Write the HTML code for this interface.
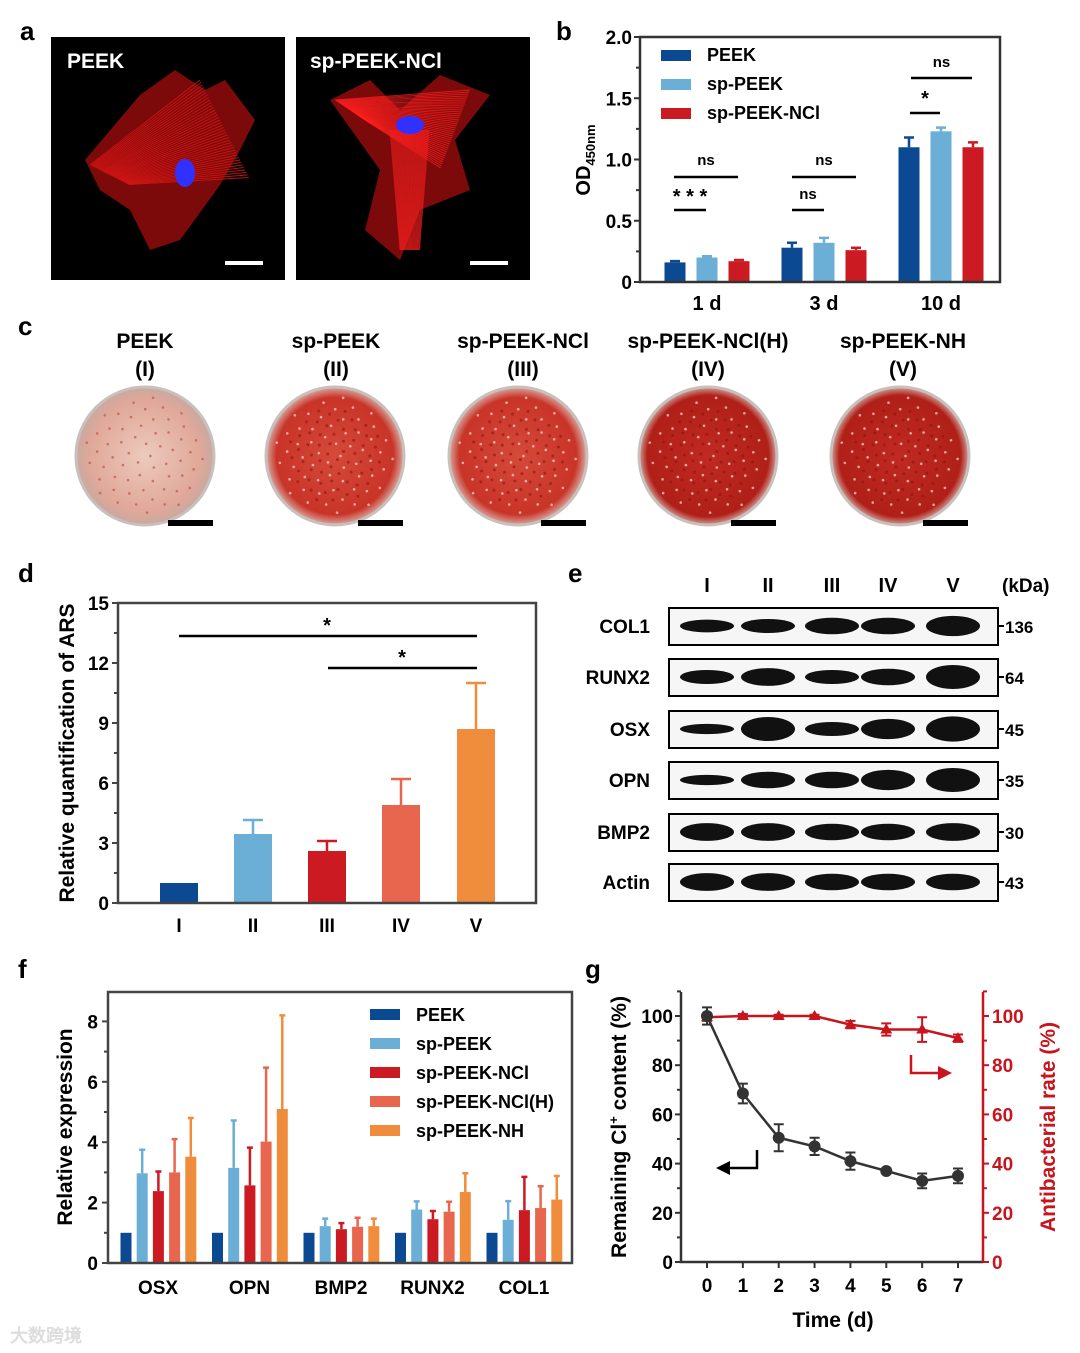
<!DOCTYPE html>
<html><head><meta charset="utf-8"><style>
body{margin:0;background:#fff}
svg{display:block;font-family:"Liberation Sans",Arial,sans-serif;font-weight:bold}
</style></head><body>
<svg id="fig" width="1080" height="1353" viewBox="0 0 1080 1353" xmlns="http://www.w3.org/2000/svg">
<defs>
<radialGradient id="dish1" cx="50%" cy="50%" r="50%"><stop offset="0%" stop-color="#eccabd"/><stop offset="80%" stop-color="#e0a898"/><stop offset="100%" stop-color="#c9a8a0"/></radialGradient>
<radialGradient id="dish2" cx="50%" cy="50%" r="50%"><stop offset="0%" stop-color="#d54a3a"/><stop offset="85%" stop-color="#c93428"/><stop offset="100%" stop-color="#d8a8a0"/></radialGradient>
<radialGradient id="dish3" cx="50%" cy="50%" r="50%"><stop offset="0%" stop-color="#c02a22"/><stop offset="88%" stop-color="#b02018"/><stop offset="100%" stop-color="#d0a098"/></radialGradient>
</defs>

<g>
<text x="20" y="40" font-size="26">a</text>
<rect x="51" y="37" width="234" height="243" fill="#000"/>
<g id="cellA"></g>
<polygon points="85,160 140,95 175,70 205,90 225,80 255,120 240,150 220,185 180,240 150,250 130,210 100,190" fill="#d01010" opacity="0.6"/>
<ellipse cx="185" cy="173" rx="10" ry="14" fill="#3030ff"/>
<text x="67" y="68" font-size="21" fill="#fff">PEEK</text>
<rect x="225" y="261" width="38" height="4" fill="#fff"/>
<rect x="296" y="37" width="234" height="243" fill="#000"/>
<polygon points="330,100 370,80 400,110 440,75 490,95 455,140 470,190 420,210 400,260 365,230 380,170" fill="#d01010" opacity="0.6"/>
<g id="cellB"></g>
<ellipse cx="410" cy="125" rx="14" ry="9" fill="#3030ff"/>
<text x="310" y="68" font-size="21" fill="#fff">sp-PEEK-NCl</text>
<rect x="470" y="261" width="38" height="4" fill="#fff"/>
</g>

<g id="pb">
<text x="556" y="40" font-size="26">b</text>
<text transform="translate(590,160) rotate(-90)" text-anchor="middle" font-size="20">OD<tspan font-size="13" dy="5">450nm</tspan></text>
</g>

<g id="pc">
<text x="18" y="335" font-size="26">c</text>
</g>

<g id="pd">
<text x="18" y="582" font-size="26">d</text>
<text transform="translate(74,753) rotate(-90)" text-anchor="middle" font-size="21">Relative quantification of ARS</text>
</g>

<g id="pe">
<text x="568" y="582" font-size="26">e</text>
<text x="1002" y="592" font-size="19">(kDa)</text>
</g>

<g id="pf">
<text x="18" y="978" font-size="26">f</text>
<text transform="translate(72,1127) rotate(-90)" text-anchor="middle" font-size="21">Relative expression</text>
</g>

<g id="pg">
<text x="585" y="978" font-size="26">g</text>
<text transform="translate(626,1127) rotate(-90)" text-anchor="middle" font-size="21">Remaining Cl<tspan font-size="13" dy="-8">+</tspan><tspan dy="8"> content (%)</tspan></text>
<text transform="translate(1055,1127) rotate(-90)" text-anchor="middle" font-size="21" fill="#c8141c">Antibacterial rate (%)</text>
<text x="833" y="1327" text-anchor="middle" font-size="21">Time (d)</text>
<path d="M757,1150 V1168 H722" fill="none" stroke="#000" stroke-width="2.5"/>
<polygon points="716,1168 730,1161 730,1175" fill="#000"/>
<path d="M911,1055 V1073 H945" fill="none" stroke="#c8141c" stroke-width="2.5"/>
<polygon points="952,1073 938,1066 938,1080" fill="#c8141c"/>
</g>
<text x="10" y="1342" font-size="18" fill="#ddd">大数跨境</text>
</svg>
<script>
const NS="http://www.w3.org/2000/svg";
function mk(parent,tag,attrs,txt){const e=document.createElementNS(NS,tag);for(const k in attrs)e.setAttribute(k,attrs[k]);if(txt!==undefined)e.textContent=txt;parent.appendChild(e);return e;}

// ---------- Panel b data ----------
const bDays=["1 d","3 d","10 d"];
const bSeries=["PEEK","sp-PEEK","sp-PEEK-NCl"];
const bPeek=[0.16,0.28,1.10];
const bSpPeek=[0.20,0.32,1.23];
const bNcl=[0.17,0.26,1.10];
const bPeekErr=[0.01,0.04,0.08];
const bSpPeekErr=[0.01,0.04,0.03];
const bNclErr=[0.01,0.02,0.04];
const bTicks=[0,0.5,1.0,1.5,2.0];
const bTickLabels=["0","0.5","1.0","1.5","2.0"];

// ---------- Panel d data ----------
const dCats=["I","II","III","IV","V"];
const dVals=[1.0,3.45,2.6,4.9,8.7];
const dErr=[0,0.7,0.5,1.3,2.3];
const dTicks=[0,3,6,9,12,15];

// ---------- Panel f data ----------
const fGenes=["OSX","OPN","BMP2","RUNX2","COL1"];
const fSeries=["PEEK","sp-PEEK","sp-PEEK-NCl","sp-PEEK-NCl(H)","sp-PEEK-NH"];
const fPeek=[1,1,1,1,1];
const fSpPeek=[2.97,3.15,1.22,1.77,1.43];
const fNcl=[2.38,2.57,1.12,1.45,1.75];
const fNclH=[3.0,4.02,1.2,1.70,1.82];
const fNH=[3.52,5.1,1.22,2.35,2.1];
const fSpPeekErr=[0.78,1.57,0.25,0.27,0.62];
const fNclErr=[0.65,1.25,0.2,0.27,1.1];
const fNclHErr=[1.1,2.45,0.3,0.33,0.72];
const fNHErr=[1.28,3.1,0.25,0.62,0.78];
const fTicks=[0,2,4,6,8];

// ---------- Panel g data ----------
const gDays=[0,1,2,3,4,5,6,7];
const gCl=[100,68.5,50.5,47,41,37,33,35];
const gClErr=[3.5,4,5.5,3.5,3.5,1,3,3];
const gAnti=[99.5,100,100,100,96.5,94.5,94.5,91];
const gAntiErr=[1.5,0.8,0.5,0.5,1.5,2.5,5,1.5];
const gTicks=[0,20,40,60,80,100];

const colors5=["#0b4a92","#6baed6","#cc1a22","#e8664d","#f08d3c"];

// fibres for panel a (decorative)
(function(){
 const a=document.getElementById('cellA'),b=document.getElementById('cellB');
 for(let i=0;i<40;i++){const t=i/40;
  mk(a,'line',{x1:90+t*40,y1:165+t*20,x2:200+t*50,y2:80+t*100,stroke:'#ff2020','stroke-width':1,opacity:0.7});
  mk(b,'line',{x1:335+t*30,y1:100+t*20,x2:470-t*30,y2:90+t*80,stroke:'#ff2020','stroke-width':1,opacity:0.7});
  mk(b,'line',{x1:390+t*40,y1:130,x2:400+t*20,y2:250,stroke:'#ff2020','stroke-width':1,opacity:0.5});
 }
})();

// ===== Panel b =====
(function(){
 const g=document.getElementById('pb');
 const x0=640,x1=1000,yb=282,yt=37;
 const y=v=>yb-(v/2.0)*(yb-yt);
 const groupC=[707,824,941],off=[-32,0,32],bw=21;
 const vals=[bPeek,bSpPeek,bNcl],errs=[bPeekErr,bSpPeekErr,bNclErr];
 for(let s=0;s<3;s++)for(let i=0;i<3;i++){
  const cx=groupC[i]+off[s];
  const r=mk(g,'rect',{x:cx-bw/2,y:y(vals[s][i]),width:bw,height:yb-y(vals[s][i]),fill:colors5[s]});
  
  
  const ye=y(vals[s][i]+errs[s][i]);
  mk(g,'path',{d:`M${cx} ${y(vals[s][i])}V${ye}M${cx-5} ${ye}H${cx+5}`,stroke:colors5[s],'stroke-width':2.5,fill:'none'});
 }
 mk(g,'rect',{x:x0,y:yt,width:x1-x0,height:yb-yt,fill:'none',stroke:'#333','stroke-width':2.5});
 bTicks.forEach((t,i)=>{mk(g,'line',{x1:x0-6,x2:x0,y1:y(t),y2:y(t),stroke:'#333','stroke-width':2});
  const tl=mk(g,'text',{x:x0-8,y:y(t)+7,'text-anchor':'end','font-size':19},bTickLabels[i]);
  });
 [0.25,0.75,1.25,1.75].forEach(t=>mk(g,'line',{x1:x0-4,x2:x0,y1:y(t),y2:y(t),stroke:'#333','stroke-width':2}));
 bDays.forEach((d,i)=>{const tl=mk(g,'text',{x:groupC[i],y:310,'text-anchor':'middle','font-size':20},d);
  });
 bSeries.forEach((s,i)=>{mk(g,'rect',{x:661,y:50+i*29,width:30,height:11,fill:colors5[i]});
  const tl=mk(g,'text',{x:707,y:61+i*29,'font-size':18},s);
  });
 const sig=[[674,738,177,'ns',165],[674,706,210,'* * *',203],[792,856,177,'ns',165],[792,824,210,'ns',199],[911,972,78,'ns',67],[910,940,113,'*',105]];
 sig.forEach(s=>{mk(g,'line',{x1:s[0],x2:s[1],y1:s[2],y2:s[2],stroke:'#000','stroke-width':2.5});
  mk(g,'text',{x:(s[0]+s[1])/2,y:s[4],'text-anchor':'middle','font-size':s[3]==='ns'?15:20},s[3]);});
})();

// ===== Panel c =====
(function(){
 const g=document.getElementById('pc');
 const names=["PEEK","sp-PEEK","sp-PEEK-NCl","sp-PEEK-NCl(H)","sp-PEEK-NH"];
 const roman=["(I)","(II)","(III)","(IV)","(V)"];
 const cx=[145,336,523,708,903],fills=["url(#dish1)","url(#dish2)","url(#dish2)","url(#dish3)","url(#dish3)"];
 const dcx=[145,335,518,708,900];
 names.forEach((n,i)=>{
  const t=mk(g,'text',{x:cx[i],y:348,'text-anchor':'middle','font-size':21},n);
  
  mk(g,'text',{x:cx[i],y:376,'text-anchor':'middle','font-size':21},roman[i]);
  const c=mk(g,'circle',{cx:dcx[i],cy:456,r:69,fill:fills[i],stroke:'#c8c0bc','stroke-width':3});
  
  // speckles
  for(let k=0;k<60;k++){const ang=k*2.39996,rr=60*Math.sqrt((k+0.5)/60);
   mk(g,'circle',{cx:dcx[i]+rr*Math.cos(ang),cy:456+rr*Math.sin(ang),r:1.3,fill:i===0?'#c0605a':'#f0c8c0',opacity:0.8});
   if(i>0) mk(g,'circle',{cx:dcx[i]+rr*0.8*Math.cos(ang+1),cy:456+rr*0.8*Math.sin(ang+1),r:1.5,fill:'#901410',opacity:0.6});
  }
  mk(g,'rect',{x:dcx[i]+23,y:520,width:45,height:6,fill:'#000'});
 });
})();

// ===== Panel d =====
(function(){
 const g=document.getElementById('pd');
 const x0=118,x1=536,yb=903,yt=603;
 const y=v=>yb-(v/15)*(yb-yt);
 const cxs=[179,253,327,401,476],bw=38;
 dCats.forEach((c,i)=>{
  const r=mk(g,'rect',{x:cxs[i]-bw/2,y:y(dVals[i]),width:bw,height:yb-y(dVals[i]),fill:colors5[i]});
  
  if(dErr[i]>0){const ye=y(dVals[i]+dErr[i]);mk(g,'path',{d:`M${cxs[i]} ${y(dVals[i])}V${ye}M${cxs[i]-10} ${ye}H${cxs[i]+10}`,stroke:colors5[i],'stroke-width':2.5,fill:'none'});}
  const t=mk(g,'text',{x:cxs[i],y:932,'text-anchor':'middle','font-size':19},c);
  
 });
 mk(g,'rect',{x:x0,y:yt,width:x1-x0,height:yb-yt,fill:'none',stroke:'#444','stroke-width':2.5});
 dTicks.forEach(t=>{mk(g,'line',{x1:x0-6,x2:x0,y1:y(t),y2:y(t),stroke:'#444','stroke-width':2});
  const tl=mk(g,'text',{x:x0-9,y:y(t)+7,'text-anchor':'end','font-size':19},String(t));
  });
 [1.5,4.5,7.5,10.5,13.5].forEach(t=>mk(g,'line',{x1:x0-4,x2:x0,y1:y(t),y2:y(t),stroke:'#444','stroke-width':2}));
 mk(g,'line',{x1:179,x2:477,y1:636,y2:636,stroke:'#000','stroke-width':2.5});
 mk(g,'text',{x:327,y:632,'text-anchor':'middle','font-size':20},'*');
 mk(g,'line',{x1:328,x2:477,y1:668,y2:668,stroke:'#000','stroke-width':2.5});
 mk(g,'text',{x:402,y:664,'text-anchor':'middle','font-size':20},'*');
})();

// ===== Panel e =====
(function(){
 const g=document.getElementById('pe');
 const lanes=["I","II","III","IV","V"],lx=[707,768,832,888,953];
 lanes.forEach((l,i)=>{const t=mk(g,'text',{x:lx[i],y:592,'text-anchor':'middle','font-size':20},l);
  });
 const prots=["COL1","RUNX2","OSX","OPN","BMP2","Actin"];
 const kda=["136","64","45","35","30","43"];
 const ys=[608,659,711,762,814,864];
 const bh=[[7,8,10,10,13],[8,11,8,10,16],[5,16,8,13,17],[5,10,10,13,16],[11,11,10,10,11],[11,11,10,10,10]];
 prots.forEach((p,r)=>{
  const b=mk(g,'rect',{x:669,y:ys[r],width:329,height:37,fill:'#f6f6f6',stroke:'#000','stroke-width':2});
  
  const t=mk(g,'text',{x:650,y:ys[r]+25,'text-anchor':'end','font-size':19},p);
  
  mk(g,'line',{x1:998,x2:1004,y1:ys[r]+18,y2:ys[r]+18,stroke:'#000','stroke-width':2});
  mk(g,'text',{x:1005,y:ys[r]+25,'font-size':17},kda[r]);
  lx.forEach((x,i)=>mk(g,'ellipse',{cx:x,cy:ys[r]+18,rx:27,ry:bh[r][i]/1.6+2,fill:'#111'}));
 });
})();

// ===== Panel f =====
(function(){
 const g=document.getElementById('pf');
 const x0=108,x1=572,yb=1263,yt=992;
 const y=v=>yb-v*30.2;
 const vals=[fPeek,fSpPeek,fNcl,fNclH,fNH],errs=[null,fSpPeekErr,fNclErr,fNclHErr,fNHErr];
 fGenes.forEach((gn,i)=>{
  const base=126+i*91.5;
  for(let s=0;s<5;s++){
   const cx=base+s*16.2,v=vals[s][i];
   const r=mk(g,'rect',{x:cx-5.5,y:y(v),width:11,height:yb-y(v),fill:colors5[s]});
   
   if(errs[s]){const ye=y(v+errs[s][i]);mk(g,'path',{d:`M${cx} ${y(v)}V${ye}M${cx-3} ${ye}H${cx+3}`,stroke:colors5[s],'stroke-width':2.5,fill:'none'});}
  }
  const t=mk(g,'text',{x:base+32,y:1294,'text-anchor':'middle','font-size':19},gn);
  
 });
 mk(g,'rect',{x:x0,y:yt,width:x1-x0,height:yb-yt,fill:'none',stroke:'#444','stroke-width':2.5});
 fTicks.forEach(t=>{mk(g,'line',{x1:x0-6,x2:x0,y1:y(t),y2:y(t),stroke:'#444','stroke-width':2});
  const tl=mk(g,'text',{x:x0-10,y:y(t)+7,'text-anchor':'end','font-size':19},String(t));
  });
 [1,3,5,7].forEach(t=>mk(g,'line',{x1:x0-4,x2:x0,y1:y(t),y2:y(t),stroke:'#444','stroke-width':2}));
 fSeries.forEach((s,i)=>{mk(g,'rect',{x:370,y:1009+i*29,width:30,height:11,fill:colors5[i]});
  const tl=mk(g,'text',{x:416,y:1021+i*29,'font-size':18},s);
  });
})();

// ===== Panel g =====
(function(){
 const g=document.getElementById('pg');
 const x0=681,x1=983,yb=1262,yt=992;
 const x=d=>707+d*(958-707)/7;
 const y=v=>yb-v*(1262-1016)/100;
 mk(g,'path',{d:`M${x0} ${yt}V${yb}H${x1}`,stroke:'#333','stroke-width':2.5,fill:'none'});
 mk(g,'line',{x1:x1,x2:x1,y1:yt,y2:yb,stroke:'#c8141c','stroke-width':2.5});
 gTicks.forEach(t=>{
  mk(g,'line',{x1:x0-6,x2:x0,y1:y(t),y2:y(t),stroke:'#333','stroke-width':2});
  const a=mk(g,'text',{x:x0-8,y:y(t)+7,'text-anchor':'end','font-size':19},String(t));
  
  mk(g,'line',{x1:x1,x2:x1+6,y1:y(t),y2:y(t),stroke:'#c8141c','stroke-width':2});
  const b=mk(g,'text',{x:x1+9,y:y(t)+7,'font-size':19,fill:'#c8141c'},String(t));
  
 });
 [10,30,50,70,90,110].forEach(t=>{mk(g,'line',{x1:x0-4,x2:x0,y1:y(t),y2:y(t),stroke:'#333','stroke-width':2});mk(g,'line',{x1:x1,x2:x1+4,y1:y(t),y2:y(t),stroke:'#c8141c','stroke-width':2});});
 gDays.forEach(d=>{mk(g,'line',{x1:x(d),x2:x(d),y1:yb,y2:yb+6,stroke:'#333','stroke-width':2});
  const t=mk(g,'text',{x:x(d),y:1292,'text-anchor':'middle','font-size':19},String(d));
  });
 const ar=mk(g,'polyline',{points:gDays.map((d,i)=>x(d)+','+y(gAnti[i])).join(' '),fill:'none',stroke:'#c8141c','stroke-width':2.5});
 
 gDays.forEach((d,i)=>{const yt2=y(gAnti[i]+gAntiErr[i]),yb2=y(gAnti[i]-gAntiErr[i]);
  mk(g,'path',{d:`M${x(d)} ${yt2}V${yb2}M${x(d)-5} ${yt2}H${x(d)+5}M${x(d)-5} ${yb2}H${x(d)+5}`,stroke:'#c8141c','stroke-width':2,fill:'none'});
  const m=mk(g,'polygon',{points:`${x(d)},${y(gAnti[i])-6} ${x(d)-6},${y(gAnti[i])+4} ${x(d)+6},${y(gAnti[i])+4}`,fill:'#c8141c'});
  });
 const bl=mk(g,'polyline',{points:gDays.map((d,i)=>x(d)+','+y(gCl[i])).join(' '),fill:'none',stroke:'#333','stroke-width':2.5});
 
 gDays.forEach((d,i)=>{const yt2=y(gCl[i]+gClErr[i]),yb2=y(gCl[i]-gClErr[i]);
  mk(g,'path',{d:`M${x(d)} ${yt2}V${yb2}M${x(d)-5} ${yt2}H${x(d)+5}M${x(d)-5} ${yb2}H${x(d)+5}`,stroke:'#333','stroke-width':2,fill:'none'});
  const m=mk(g,'circle',{cx:x(d),cy:y(gCl[i]),r:6,fill:'#333'});
  });
})();
</script>
</body></html>
